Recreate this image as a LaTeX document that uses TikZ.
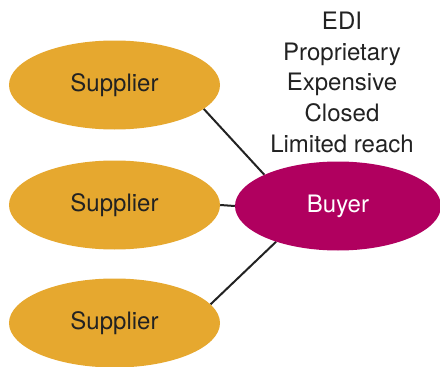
\documentclass[tikz,border=0pt]{standalone}
\usepackage{fontspec}
\setmainfont{TeX Gyre Heros}
\usetikzlibrary{shapes.geometric,backgrounds}
\definecolor{supplierorange}{HTML}{E6A82F}
\definecolor{buyermagenta}{HTML}{B0005F}
\definecolor{linkgray}{HTML}{222222}
\begin{document}
\begin{tikzpicture}[x=1pt, y=-1pt,
        party/.style={ellipse, inner sep=0pt, font=\fontsize{24}{30.75}\selectfont},
        supplier/.style={party, fill=supplierorange, text=linkgray, minimum width=211pt, minimum height=89pt},
        buyer/.style={party, fill=buyermagenta, text=white, minimum width=206pt, minimum height=89pt},
        link/.style={draw=linkgray, line width=2pt}]
            \useasboundingbox (0,0) rectangle (440,367);

            \node[supplier] (s1) at (114.5,85) {Supplier};
            \node[supplier] (s2) at (114.5,205) {Supplier};
            \node[supplier] (s3) at (114.5,323) {Supplier};
            \node[buyer] (b) at (338,206) {Buyer};

            % links sit behind the ellipses
            \begin{scope}[on background layer]
                \draw[link] (s1.-15) -- (b.157);
                \draw[link] (s2.east) -- (b.west);
                \draw[link] (s3.11) -- (b.210);
            \end{scope}

            \node[font=\fontsize{24}{30.75}\selectfont, align=center, inner sep=0pt, anchor=south, text=linkgray] (edi) at (342,153)
                {EDI\\Proprietary\\Expensive\\Closed\\Limited reach};
        \end{tikzpicture}
\end{document}
